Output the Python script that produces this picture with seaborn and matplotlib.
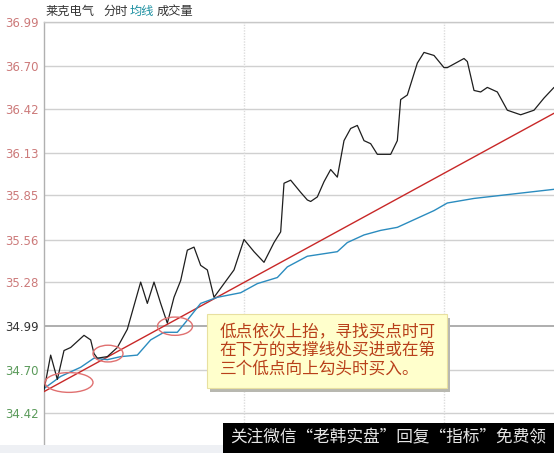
import matplotlib
matplotlib.use("Agg")
import matplotlib.pyplot as plt
from matplotlib.patches import Ellipse, Rectangle
import pandas as pd
import seaborn as sns

# ---------------------------------------------------------------
# Datos (minuto desde apertura, precio)
# ---------------------------------------------------------------
precio_min = [0, 2, 4, 6, 8, 12, 14, 15, 16, 19, 22, 25, 29, 31, 33, 35, 37, 39, 41, 43,
              45, 47, 49, 51, 54, 57, 60, 63, 66, 69, 71, 72, 74, 77, 79, 80, 82, 84, 86, 88,
              90, 92, 94, 96, 98, 100, 104, 106, 107, 109, 112, 114, 117, 120, 121, 126, 127,
              129, 131, 133, 136, 139, 143, 147, 150, 153]
precio = [34.57, 34.80, 34.64, 34.83, 34.85, 34.93, 34.90, 34.81, 34.78, 34.79, 34.85, 34.97,
          35.28, 35.14, 35.28, 35.14, 35.01, 35.18, 35.29, 35.49, 35.51, 35.39, 35.36, 35.18,
          35.27, 35.36, 35.56, 35.48, 35.41, 35.54, 35.61, 35.93, 35.95, 35.87, 35.82, 35.81,
          35.84, 35.94, 36.02, 35.97, 36.21, 36.29, 36.31, 36.21, 36.19, 36.12, 36.12, 36.21,
          36.48, 36.51, 36.72, 36.79, 36.77, 36.69, 36.69, 36.75, 36.73, 36.54, 36.53, 36.56,
          36.53, 36.41, 36.38, 36.41, 36.49, 36.56]

media_min = [0, 5, 11, 15, 19, 23, 28, 32, 36, 40, 43, 47, 52, 59, 64, 70, 73, 79, 88, 91,
             96, 101, 106, 109, 113, 117, 121, 129, 137, 145, 153]
media = [34.58, 34.66, 34.72, 34.78, 34.77, 34.79, 34.80, 34.90, 34.95, 34.95, 35.03, 35.14,
         35.18, 35.21, 35.27, 35.31, 35.38, 35.45, 35.48, 35.54, 35.59, 35.62, 35.64, 35.67,
         35.71, 35.75, 35.80, 35.83, 35.85, 35.87, 35.89]

# línea de soporte (dos extremos)
soporte_min = [0, 153]
soporte = [34.56, 36.39]

# puntos bajos marcados con elipses: (minuto, precio, ancho, alto)
bajos_min = [7.5, 19.2, 39.3]
bajos = [34.62, 34.81, 34.99]
bajos_ancho = [14.4, 9.0, 10.5]
bajos_alto = [0.13, 0.11, 0.12]

ticks_y = [34.42, 34.70, 34.99, 35.28, 35.56, 35.85, 36.13, 36.42, 36.70, 36.99]
cierre_anterior = 34.99

titulo = ["莱克电气", "分时", "均线", "成交量"]
nota = "低点依次上抬，寻找买点时可\n在下方的支撑线处买进或在第\n三个低点向上勾头时买入。"
marca = "关注微信“老韩实盘”回复“指标”免费领"

df_precio = pd.DataFrame({"min": precio_min, "precio": precio})
df_media = pd.DataFrame({"min": media_min, "precio": media})
df_soporte = pd.DataFrame({"min": soporte_min, "precio": soporte})

# ---------------------------------------------------------------
# Figura
# ---------------------------------------------------------------
sns.set_theme(style="white")
plt.rcParams['font.family'] = ['Noto Sans CJK SC', 'DejaVu Sans']

fig = plt.figure(figsize=(5.54, 4.53), dpi=100)
fig.patch.set_facecolor("white")
ax = fig.add_axes([44 / 554, 8 / 453, 510 / 554, 423 / 453])

# franja inferior
fig.patches.append(Rectangle((0, 0), 1, 8 / 453, transform=fig.transFigure,
                             facecolor="#eef0f4", edgecolor="none", zorder=0))

ax.set_xlim(0, 153)
ax.set_ylim(34.209, 36.99)

# rejilla
for v in ticks_y:
    if v == cierre_anterior:
        ax.axhline(v, color="#a8a8a8", lw=1.3, zorder=1)
    else:
        ax.axhline(v, color="#d0d0d0", lw=1.0, zorder=1)
for v in [60, 120]:
    ax.axvline(v, color="#dcdcdc", lw=1.0, ls=(0, (1, 1)), zorder=1)

sns.lineplot(data=df_soporte, x="min", y="precio", ax=ax, color="#c82828", lw=1.0, zorder=3)
sns.lineplot(data=df_media, x="min", y="precio", ax=ax, color="#2b8cbf", lw=1.0, zorder=4)
sns.lineplot(data=df_precio, x="min", y="precio", ax=ax, color="#1e1e1e", lw=0.9, zorder=5)

for cx, cy, w, h in zip(bajos_min, bajos, bajos_ancho, bajos_alto):
    ax.add_patch(Ellipse((cx, cy), w, h, fill=False, edgecolor="#e07070", lw=1.0, zorder=6))

# ejes
ax.set_xlabel("")
ax.set_ylabel("")
ax.set_xticks([])
ax.set_yticks(ticks_y)
ax.set_yticklabels([f"{v:.2f}" for v in ticks_y], fontsize=8.5, family="DejaVu Sans")
ax.tick_params(axis="y", length=0, pad=4)
for lbl, v in zip(ax.get_yticklabels(), ticks_y):
    if v > cierre_anterior:
        lbl.set_color("#cc7a7a")
    elif v < cierre_anterior:
        lbl.set_color("#5a9a5a")
    else:
        lbl.set_color("#333333")
for s in ["right", "bottom"]:
    ax.spines[s].set_visible(False)
ax.spines["left"].set_color("#b0b0b0")
ax.spines["top"].set_color("#c8c8c8")
ax.spines["left"].set_linewidth(1.0)
ax.spines["top"].set_linewidth(1.0)

# título
colores_titulo = ["#333333", "#333333", "#1a8fa0", "#333333"]
x_titulo = [45, 103, 130, 157]
for t, c, xp in zip(titulo, colores_titulo, x_titulo):
    fig.text(xp / 554, 1 - 11 / 453, t, fontsize=8.8, color=c, va="center")

# nota con sombra
x0, x1 = (207 - 44) / 510, (447 - 44) / 510
y0, y1 = (445 - 388) / 423, (445 - 314) / 423
ax.add_patch(Rectangle((x0 + 0.006, y0 - 0.009), x1 - x0, y1 - y0, transform=ax.transAxes,
                       facecolor="#b8b8b0", edgecolor="none", zorder=7))
ax.add_patch(Rectangle((x0, y0), x1 - x0, y1 - y0, transform=ax.transAxes,
                       facecolor="#ffffcc", edgecolor="#e8e0a0", lw=0.8, zorder=8))
ax.text(x0 + 0.025, (y0 + y1) / 2, nota, transform=ax.transAxes, fontsize=12,
        color="#b8401a", va="center", ha="left", linespacing=1.1, zorder=9)

# marca de agua
fig.patches.append(Rectangle((223 / 554, 0), 1 - 223 / 554, 30 / 453, transform=fig.transFigure,
                             facecolor="#000000", edgecolor="none", zorder=10))
fig.text((223 + 554) / 2 / 554, 15 / 453, marca, fontsize=12, color="#e6e6e6",
         ha="center", va="center", zorder=11)

fig.savefig("out.png", dpi=100)
plt.close(fig)
